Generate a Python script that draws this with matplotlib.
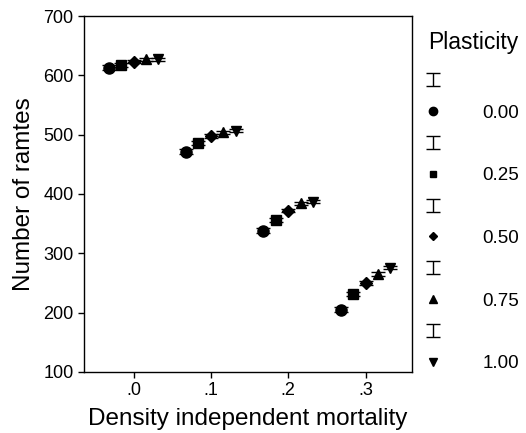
import matplotlib
matplotlib.use("Agg")
import matplotlib.pyplot as plt
from matplotlib.container import ErrorbarContainer
from matplotlib.legend_handler import HandlerErrorbar
import numpy as np

plt.rcParams['font.family'] = ['Liberation Sans', 'DejaVu Sans']

mortality = [0.0, 0.1, 0.2, 0.3]
plasticity = ['0.00', '0.25', '0.50', '0.75', '1.00']
ramets = [
    [613, 471, 338, 205],
    [617, 486, 356, 231],
    [623, 498, 372, 250],
    [627, 504, 384, 265],
    [627, 507, 387, 276],
]
errors = [
    [4, 4, 4, 4],
    [3, 3, 3, 3],
    [3, 3, 3, 3],
    [3, 3, 3, 3],
    [3, 3, 3, 3],
]
markers = ['o', 's', 'D', '^', 'v']
msizes = [8, 6.5, 6, 7, 7]

fig = plt.figure(figsize=(5.26, 4.33), dpi=100)
ax = fig.add_axes([0.1597, 0.141, 0.6236, 0.822])

dodge = 0.016
handles = []
labels = []
for i, p in enumerate(plasticity):
    x = np.array(mortality) + (i - 2) * dodge
    eb = ax.errorbar(x, ramets[i], yerr=errors[i], fmt='none', ecolor='black',
                     elinewidth=1, capsize=5, capthick=1)
    mk, = ax.plot(x, ramets[i], linestyle='none', marker=markers[i],
                  markersize=msizes[i], color='black')
    handles += [eb, mk]
    labels += ['', p]

ax.set_xlim(-0.064, 0.36)
ax.set_ylim(100, 700)
ax.set_xticks(mortality)
ax.set_xticklabels(['.0', '.1', '.2', '.3'])
ax.set_yticks(range(100, 701, 100))
ax.tick_params(direction='out', length=4, width=1, labelsize=13, colors='black')
for s in ax.spines.values():
    s.set_linewidth(1)
ax.set_xlabel('Density independent mortality', fontsize=17.5, labelpad=6)
ax.set_ylabel('Number of ramtes', fontsize=17.5, labelpad=6)

# legend: title drawn separately, rows below it
fig.text(428 / 526, 1 - 43 / 433, 'Plasticity', fontsize=16.5, ha='left', va='center')
leg = ax.legend(handles, labels, loc='upper left',
                bbox_to_anchor=(424 / 526, 1 - 73 / 433), bbox_transform=fig.transFigure,
                frameon=False, fontsize=13.5,
                handlelength=1.0, handletextpad=2.1, labelspacing=0.76,
                markerscale=0.75, borderpad=0, borderaxespad=0,
                handler_map={ErrorbarContainer: HandlerErrorbar(xerr_size=0.35)})

fig.savefig('out.png', dpi=100)
